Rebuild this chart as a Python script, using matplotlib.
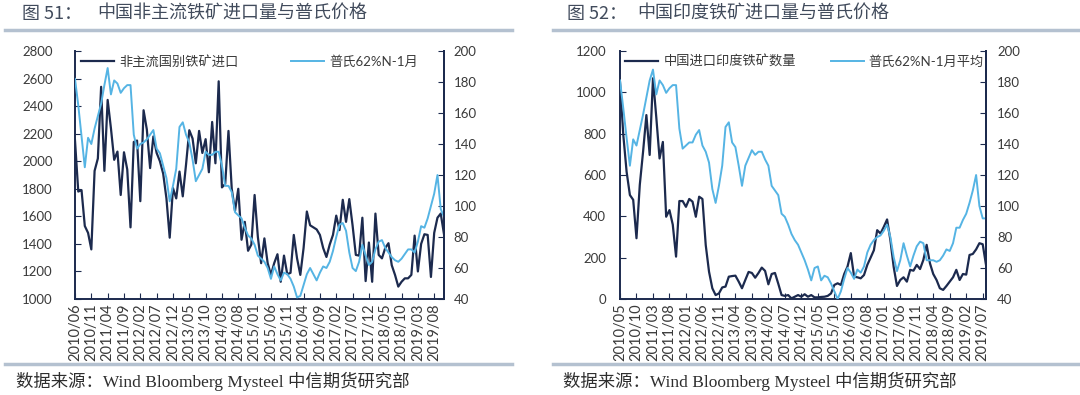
import matplotlib
matplotlib.use("Agg")
import matplotlib.pyplot as plt
from matplotlib.lines import Line2D

plt.rcParams['font.family'] = ['Noto Sans CJK SC', 'DejaVu Sans']

# ---- data: figure 51 (monthly, 2010/06 - 2019/11) ----
left_imports = [
    2150, 1780, 1790, 1530, 1480, 1360, 1930, 2020, 2540, 1930,
    2445, 2240, 2010, 2070, 1755, 2065, 1940, 1520, 2140, 2150,
    1710, 2370, 2230, 1950, 2180, 2060, 2000, 1910, 1730, 1445,
    1805, 1730, 1925, 1745, 1975, 2225, 2165, 1985, 2220, 2060,
    2160, 1920, 2285, 1985, 2580, 1810, 1835, 2220, 1800, 1640,
    1800, 1430, 1560, 1350, 1395, 1755, 1450, 1260, 1440, 1260,
    1175, 1260, 1325, 1125, 1315, 1180, 1190, 1465, 1295, 1175,
    1370, 1635, 1535, 1520, 1505, 1465, 1370, 1305, 1395, 1465,
    1605, 1500, 1720, 1560, 1725, 1535, 1320, 1315, 1590, 1130,
    1410, 1125, 1620, 1320, 1295, 1370, 1405, 1245, 1175, 1090,
    1125, 1150, 1150, 1175, 1460, 1200, 1400, 1470, 1465, 1160,
    1480, 1590, 1620, 1470,
]
left_price = [
    182, 165, 145, 125, 144, 140, 150, 158, 166, 178,
    189, 172, 181, 179, 173, 176, 178, 178, 146, 137,
    140, 141, 143, 146, 149, 137, 134, 126, 118, 103,
    113, 124, 151, 154, 146, 141, 130, 116, 120, 124,
    135, 133, 133, 135, 135, 126, 113, 113, 109, 96,
    94, 92, 86, 81, 79, 75, 68, 66, 64, 60,
    53, 61, 56, 52, 57, 56, 53, 48, 41, 42,
    49, 56, 60, 56, 52, 57, 61, 60, 64, 71,
    80, 88, 89, 84, 70, 60, 58, 64, 75, 68,
    62, 64, 72, 77, 78, 73, 70, 67, 65, 64,
    66, 69, 72, 72, 70, 77, 87, 86, 92, 100,
    108, 120, 98, 93,
]
left_labels = ['2010/06', '2010/11', '2011/04', '2011/09', '2012/02', '2012/07',
               '2012/12', '2013/05', '2013/10', '2014/03', '2014/08', '2015/01',
               '2015/06', '2015/11', '2016/04', '2016/09', '2017/02', '2017/07',
               '2017/12', '2018/05', '2018/10', '2019/03', '2019/08']

# ---- data: figure 52 (monthly, 2010/05 - 2019/08) ----
right_imports = [
    1050, 794, 616, 503, 480, 294, 552, 713, 890, 697,
    1068, 880, 680, 760, 398, 430, 360, 205, 474, 474,
    446, 484, 471, 398, 495, 484, 261, 132, 52, 19,
    27, 56, 60, 108, 111, 113, 84, 52, 92, 131,
    126, 103, 126, 152, 136, 71, 121, 126, 74, 19,
    15, 19, 3, 11, 19, 11, 23, 11, 19, 8,
    8, 10, 11, 15, 27, 68, 76, 68, 121, 157,
    222, 108, 105, 100, 116, 165, 200, 236, 333, 317,
    349, 385, 285, 155, 63, 92, 105, 84, 141, 137,
    165, 145, 189, 262, 173, 121, 92, 52, 44, 63,
    84, 105, 141, 92, 121, 118, 213, 218, 240, 270,
    265, 165,
]
right_price = [
    181, 163, 144, 126, 143, 139, 149, 159, 170, 181,
    188, 172, 181, 178, 173, 176, 178, 178, 150, 137,
    139, 141, 141, 146, 149, 139, 135, 128, 111, 102,
    113, 126, 151, 154, 141, 138, 126, 113, 126, 131,
    136, 133, 135, 135, 130, 126, 113, 110, 107, 95,
    93, 88, 82, 78, 75, 70, 65, 59, 52, 60,
    61, 52, 55, 54, 50, 45, 40, 45, 53, 60,
    57, 53, 59, 57, 61, 70, 75, 78, 80, 81,
    84, 88, 80, 67, 58, 65, 76, 68, 61, 68,
    74, 77, 76, 65, 65, 65, 64, 65, 68, 72,
    71, 76, 86, 86, 91, 95, 102, 110, 120, 100,
    92, 92,
]
right_labels = ['2010/05', '2010/10', '2011/03', '2011/08', '2012/01', '2012/06',
                '2012/11', '2013/04', '2013/09', '2014/02', '2014/07', '2014/12',
                '2015/05', '2015/10', '2016/03', '2016/08', '2017/01', '2017/06',
                '2017/11', '2018/04', '2018/09', '2019/02', '2019/07']

navy = '#1c2a4e'
sky = '#55b4e4'
textc = '#3a3a3a'
rule = '#b4c1d0'
W, H = 1080, 395

fig = plt.figure(figsize=(W / 100, H / 100), dpi=100)


def px(x0, y0, x1, y1):
    # pixel box -> figure rect
    return [x0 / W, 1 - y1 / H, (x1 - x0) / W, (y1 - y0) / H]


def panel(rect, imports, price, labels, ylim, ystep, names, lpad, rpad, colsp):
    ax = fig.add_axes(rect)
    ax2 = ax.twinx()
    l1, = ax.plot(range(len(imports)), imports, color=navy, lw=1.6)
    l2, = ax2.plot(range(len(price)), price, color=sky, lw=1.4)
    ax.set_xlim(0, len(imports) - 1)
    ax.set_ylim(*ylim)
    ax.set_yticks(range(ylim[0], ylim[1] + 1, ystep))
    ax2.set_ylim(40, 200)
    ax2.set_yticks(range(40, 201, 20))
    ax.set_xticks(range(0, len(labels) * 5, 5))
    ax.set_xticklabels(labels, rotation=90, family='Lato', fontsize=10.5,
                       color=textc)
    for a in (ax, ax2):
        a.spines['top'].set_visible(False)
        for s in a.spines.values():
            s.set_color(navy)
            s.set_linewidth(1.4)
    ax2.spines['left'].set_visible(False)
    ax2.spines['bottom'].set_visible(False)
    ax.tick_params(axis='y', direction='in', length=4, color=navy, pad=lpad,
                   labelsize=9.5, labelcolor=textc, labelfontfamily='Lato')
    ax.tick_params(axis='x', direction='in', length=4, color=navy, pad=3)
    ax2.tick_params(axis='y', direction='in', length=4, color=navy, pad=rpad,
                    labelsize=9.5, labelcolor=textc, labelfontfamily='Lato')
    ax2.legend([l1, l2], names, ncol=2, frameon=False, loc='upper left',
               bbox_to_anchor=(0.015, 0.985), borderaxespad=0, borderpad=0,
               fontsize=9.5, handlelength=2.5, handletextpad=0.4,
               columnspacing=colsp, labelcolor=textc,
               prop={'family': ['Lato', 'Noto Sans CJK SC'], 'size': 9.5})
    return ax


panel(px(75, 51, 444, 299), left_imports, left_price, left_labels, (1000, 2800), 200,
      ['非主流国别铁矿进口', '普氏62%N-1月'], 16, 7, 4.0)
panel(px(620, 51, 986, 299), right_imports, right_price, right_labels, (0, 1200), 200,
      ['中国进口印度铁矿数量', '普氏62%N-1月平均'], 10, 8, 2.6)

# titles, rules and source lines
title_kw = dict(fontsize=13, color='#414b5c', va='center')
fig.text(22 / W, 1 - 14 / H, '图 51：', **title_kw)
fig.text(97 / W, 1 - 14 / H, '中国非主流铁矿进口量与普氏价格', **title_kw)
fig.text(567 / W, 1 - 14 / H, '图 52：', **title_kw)
fig.text(637 / W, 1 - 14 / H, '中国印度铁矿进口量与普氏价格', **title_kw)

for x0, x1 in ((5, 512), (553, 1078)):
    for y in (30, 364):
        fig.add_artist(Line2D([x0 / W, x1 / W], [1 - y / H, 1 - y / H],
                              transform=fig.transFigure, color=rule, lw=2.5))

src = '数据来源：Wind Bloomberg Mysteel 中信期货研究部'
src_kw = dict(fontsize=12.5, color='#2e2e2e', va='center',
              family=['Liberation Serif', 'Noto Sans CJK SC'])
fig.text(16 / W, 1 - 381 / H, src, **src_kw)
fig.text(563 / W, 1 - 381 / H, src, **src_kw)

fig.savefig('out.png', dpi=100, facecolor='white')
